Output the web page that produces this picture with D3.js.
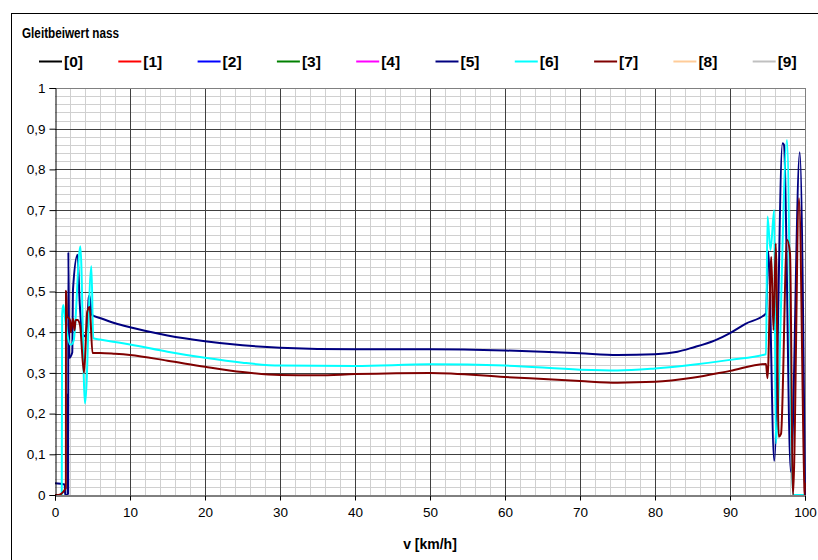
<!DOCTYPE html>
<html><head><meta charset="utf-8">
<script src="https://cdn.jsdelivr.net/npm/d3@7"></script>
<style>
html,body{margin:0;padding:0;background:#fff;}
svg{display:block;font-family:Arial,"Liberation Sans",sans-serif;}
</style></head>
<body>
<svg id="chart" width="818" height="560"></svg>
<script>
// ---- data ----
const chartTitle = "Gleitbeiwert nass";
const xTitle = "v [km/h]";
const seriesNames = ["[0]","[1]","[2]","[3]","[4]","[5]","[6]","[7]","[8]","[9]"];
const seriesColors = ["#000000","#FF0000","#0000FF","#008000","#FF00FF","#000080","#00FFFF","#800000","#FFCC99","#C0C0C0"];
const xTicks = [0,10,20,30,40,50,60,70,80,90,100];
const yTicks = [0,0.1,0.2,0.3,0.4,0.5,0.6,0.7,0.8,0.9,1];
const yTickLabels = ["0","0,1","0,2","0,3","0,4","0,5","0,6","0,7","0,8","0,9","1"];

// series [5] navy
const s5v = [0,1.3,1.35,1.68,1.7,1.72,1.74,1.76,1.78,1.9,2.3,2.4,3.0,3.3,3.6,4.0,4.3,4.5,4.6,4.9,6,8,10,15,20,25,30,40,50,60,65,70,75,80,83,85,88,90,92,94.8,95.1,95.9,97.0,97.2,98.1,99.3,100];
const s5f = [0.029,0.026,0,0,0.25,0,0.25,0,0.597,0.337,0.35,0.505,0.59,0.47,0.40,0.39,0.42,0.485,0.49,0.443,0.435,0.422,0.412,0.392,0.378,0.368,0.362,0.358,0.358,0.355,0.352,0.348,0.344,0.346,0.352,0.362,0.38,0.398,0.42,0.446,0.598,0.084,0.864,0.86,0.057,0.842,0];
// series [6] cyan
const s6v = [0,0.9,0.95,1.1,1.3,1.6,2.0,2.2,2.5,3.38,4.0,4.85,5.1,6,8,10,15,20,25,30,40,50,60,70,75,80,85,90,94.8,95.0,95.4,95.9,96.1,97.6,98.4,100];
const s6f = [0,0,0.443,0.467,0.44,0.40,0.37,0.37,0.38,0.611,0.225,0.562,0.385,0.382,0.376,0.370,0.352,0.337,0.325,0.318,0.317,0.321,0.318,0.308,0.306,0.311,0.32,0.332,0.346,0.684,0.602,0.70,0.127,0.872,0,0];
// series [7] maroon
const s7v = [0,0.45,1.45,1.47,1.6,2.0,2.1,2.4,2.6,2.75,3.0,3.33,3.87,4.3,4.62,5.0,6,8,10,15,20,25,30,35,40,50,60,70,75,80,85,90,94.8,95.0,95.5,95.8,96.1,96.5,96.8,97.6,98.0,98.4,99.2,99.9,99.95,100];
const s7f = [0,0,0.017,0.502,0.44,0.43,0.40,0.433,0.405,0.43,0.43,0.418,0.30,0.45,0.462,0.349,0.349,0.347,0.344,0.33,0.315,0.302,0.295,0.294,0.297,0.300,0.29,0.28,0.276,0.278,0.288,0.305,0.322,0.287,0.585,0.405,0.618,0.143,0.15,0.627,0.594,0,0.729,0.03,0,0.03];

const seriesData = [
  {idx:5, v:s5v, f:s5f},
  {idx:6, v:s6v, f:s6f},
  {idx:7, v:s7v, f:s7f}
];

// ---- layout ----
const svg = d3.select("#chart");
const L = 55, R = 805, T = 88, B = 495;
const x = d3.scaleLinear().domain([0,100]).range([L,R]);
const y = d3.scaleLinear().domain([0,1]).range([B,T]);

// outer frame
svg.append("rect").attr("x",11.5).attr("y",13.5).attr("width",900).attr("height",700)
  .attr("fill","#fff").attr("stroke","#000").attr("stroke-width",1);

// title
svg.append("text").attr("x",22).attr("y",38).attr("font-size",14).attr("font-weight","bold")
  .attr("textLength",97).attr("lengthAdjust","spacingAndGlyphs")
  .attr("fill","#000").text(chartTitle);

// legend
const leg = svg.append("g");
seriesNames.forEach((n,i)=>{
  const x0 = 39 + i*79.3;
  leg.append("line").attr("x1",x0).attr("x2",x0+23).attr("y1",61.5).attr("y2",61.5)
    .attr("stroke",seriesColors[i]).attr("stroke-width",2);
  leg.append("text").attr("x",x0+25).attr("y",66.5).attr("font-size",14).attr("font-weight","bold")
    .attr("textLength",19).attr("lengthAdjust","spacingAndGlyphs")
    .attr("fill","#000").text(n);
});

// minor grid
const g = svg.append("g");
d3.range(0,100.001,2).forEach(v=>{
  if (v%10!==0) g.append("line").attr("x1",Math.round(x(v))+0.5).attr("x2",Math.round(x(v))+0.5)
    .attr("y1",T).attr("y2",B).attr("stroke","#d0d0d0").attr("stroke-width",1);
});
d3.range(0,1.0001,0.02).forEach(f=>{
  if (Math.abs(f*10-Math.round(f*10))>1e-6) g.append("line").attr("x1",L).attr("x2",R)
    .attr("y1",Math.round(y(f))+0.5).attr("y2",Math.round(y(f))+0.5).attr("stroke","#d0d0d0").attr("stroke-width",1);
});
// major grid
xTicks.forEach(v=>{
  if (v>0 && v<100) g.append("line").attr("x1",Math.round(x(v))+0.5).attr("x2",Math.round(x(v))+0.5)
    .attr("y1",T).attr("y2",B).attr("stroke","#404040").attr("stroke-width",1);
});
yTicks.forEach(f=>{
  if (f>0 && f<1) g.append("line").attr("x1",L).attr("x2",R)
    .attr("y1",Math.round(y(f))+0.5).attr("y2",Math.round(y(f))+0.5).attr("stroke","#404040").attr("stroke-width",1);
});
// plot border top/right
g.append("line").attr("x1",L).attr("x2",R+0.5).attr("y1",T+0.5).attr("y2",T+0.5).attr("stroke","#808080");
g.append("line").attr("x1",R+0.5).attr("x2",R+0.5).attr("y1",T).attr("y2",B).attr("stroke","#808080");

// series lines
svg.append("clipPath").attr("id","pc").append("rect")
  .attr("x",L-2).attr("y",T-2).attr("width",R-L+4).attr("height",B-T+2);
const line = d3.line().x(d=>x(d[0])).y(d=>y(d[1])).curve(d3.curveMonotoneX);
const sg = svg.append("g").attr("clip-path","url(#pc)");
seriesData.forEach(s=>{
  const pts = s.v.map((v,i)=>[v,s.f[i]]);
  sg.append("path").attr("d",line(pts)).attr("fill","none")
    .attr("stroke",seriesColors[s.idx]).attr("stroke-width",2).attr("stroke-linejoin","miter");
});

// axes
const yAxis = d3.axisLeft(y).tickValues(yTicks).tickFormat((d,i)=>yTickLabels[i]).tickSize(6).tickPadding(4);
const ya = svg.append("g").attr("transform",`translate(${L+0.5},0)`).call(yAxis);
ya.select(".domain").attr("stroke","#000");
ya.selectAll("line").attr("stroke","#000");
ya.selectAll("text").attr("font-size",13.5).attr("font-family","Arial,'Liberation Sans',sans-serif").attr("fill","#000");

const xAxis = d3.axisBottom(x).tickValues(xTicks).tickFormat(d3.format("d")).tickSize(5).tickPadding(7);
const xa = svg.append("g").attr("transform",`translate(0,${B+0.5})`).call(xAxis);
xa.select(".domain").attr("stroke","#000");
xa.selectAll("line").attr("stroke","#000");
xa.selectAll("text").attr("font-size",13.5).attr("font-family","Arial,'Liberation Sans',sans-serif").attr("fill","#000");

svg.append("text").attr("x",(L+R)/2).attr("y",549).attr("text-anchor","middle")
  .attr("font-size",14).attr("font-weight","bold").attr("fill","#000").text(xTitle);
</script>
</body></html>
